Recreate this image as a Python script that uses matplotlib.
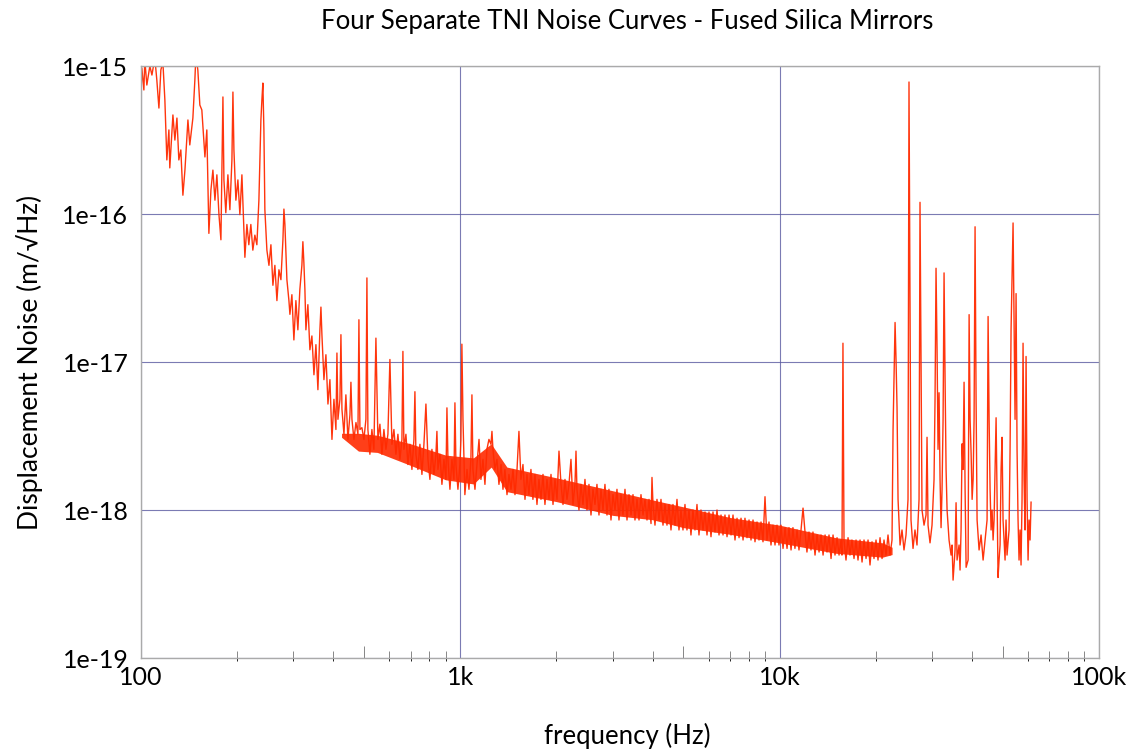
import numpy as np
import matplotlib
matplotlib.use('Agg')
import matplotlib.pyplot as plt
from matplotlib.ticker import FixedLocator, NullFormatter

plt.rcParams['font.family'] = ['Lato', 'DejaVu Sans']

# Spectrum: frequency in Hz, noise in units of 1e-18 m/sqrt(Hz)
# low band, 100 Hz - 480 Hz
freq_low = [
    100, 100.7, 102.2, 102.9, 104.4, 106.7, 108.3, 110.6, 112.2, 113.9,
    115.5, 117.2, 118.9, 120.6, 122.4, 123.2, 126.0, 127.8, 129.7, 131.5,
    133.4, 135.4, 137.4, 140.4, 142.3, 145.5, 147.6, 148.7, 150.8, 153.0,
    155.2, 158.7, 160.9, 163.3, 165.7, 168.1, 170.6, 173.0, 175.6, 178.1,
    180.7, 182.0, 184.5, 187.3, 190.0, 192.8, 194.2, 195.6, 198.4, 201.3,
    204.2, 207.2, 210.2, 211.7, 214.8, 217.8, 221.0, 224.2, 227.5, 230.8,
    234.2, 235.9, 237.6, 239.3, 241.0, 242.8, 244.5, 248.1, 251.8, 255.4,
    259.1, 262.8, 266.7, 270.6, 274.5, 278.5, 280.5, 282.5, 286.6, 290.8,
    292.9, 297.1, 301.4, 305.8, 310.2, 314.7, 319.3, 321.6, 323.9, 326.3,
    328.7, 333.4, 338.3, 343.2, 348.3, 353.3, 358.4, 363.6, 366.3, 368.9,
    374.3, 379.7, 385.3, 390.8, 396.6, 402.3, 408.1, 411.1, 414.1, 420.1,
    423.1, 426.2, 432.4, 438.5, 445.0, 451.5, 454.7, 458.1, 464.7, 471.5,
    478.3,
]
noise_low = [
    589, 969, 689, 1098, 744, 1000, 869, 1132, 804, 520,
    940, 1064, 589, 232, 370, 205, 467, 316, 445, 232,
    271, 134, 198, 432, 293, 445, 804, 1187, 940, 545,
    505, 243, 370, 74, 145, 198, 124, 184, 99, 67,
    618, 170, 102, 184, 107, 232, 667, 271, 124, 170,
    99, 184, 78, 51, 85, 62, 85, 57, 72, 62,
    124, 232, 432, 589, 767, 370, 107, 57, 45, 62,
    33, 45, 26, 42, 36, 67, 108, 85, 36, 26,
    21, 28.5, 14.1, 26, 16.5, 31, 45, 65, 47, 31,
    16.5, 24.4, 12.1, 15, 8.2, 13.1, 6.5, 16.5, 23.5, 15.3,
    7.6, 11.2, 5.2, 7.6, 3.0, 5.6, 3.5, 11.5, 4.1, 5.6,
    15.3, 4.8, 3.25, 6.0, 3.0, 4.4, 7.3, 4.1, 3.0, 3.9,
    3.25,
]

# mid band, 480 Hz - 4.3 kHz
freq_mid = [
    481.7, 485.2, 492.2, 499.3, 506.6, 510.3, 513.9, 521.4, 529.0, 536.6,
    544.5, 552.4, 560.4, 568.6, 576.8, 585.2, 593.7, 602.3, 611.1, 620.0,
    629.0, 638.1, 647.4, 656.8, 661.5, 666.3, 676.0, 685.8, 695.8, 705.9,
    716.2, 721.3, 726.6, 737.1, 747.8, 758.7, 769.7, 780.9, 792.3, 803.7,
    815.4, 827.2, 839.3, 845.3, 851.5, 863.8, 876.4, 889.2, 902.1, 908.6,
    915.2, 928.5, 941.9, 955.6, 962.5, 969.5, 983.6, 997.8, 1005, 1012,
    1020, 1034, 1050, 1065, 1080, 1088, 1096, 1112, 1128, 1145,
    1161, 1178, 1195, 1212, 1230, 1248, 1257, 1266, 1284, 1303,
    1322, 1342, 1361, 1380, 1401, 1421, 1442, 1463, 1484, 1506,
    1527, 1549, 1572, 1595, 1618, 1641, 1665, 1689, 1714, 1739,
    1764, 1790, 1816, 1842, 1869, 1896, 1924, 1952, 1980, 2009,
    2038, 2068, 2098, 2128, 2159, 2190, 2222, 2254, 2287, 2304,
    2320, 2354, 2388, 2423, 2458, 2494, 2530, 2567, 2604, 2642,
    2680, 2719, 2759, 2799, 2839, 2881, 2922, 2965, 3008, 3052,
    3096, 3141, 3187, 3233, 3280, 3328, 3377, 3426, 3475, 3525,
    3577, 3629, 3681, 3735, 3789, 3844, 3900, 3957, 3985, 4014,
    4072, 4131, 4191, 4252,
]
noise_mid = [
    19.3, 3.5, 3.6, 3.0, 4.1, 37, 3.5, 2.38, 3.5, 2.57,
    14.5, 3.0, 3.8, 2.38, 3.5, 2.57, 3.25, 10.4, 2.78, 3.5,
    2.38, 3.25, 2.2, 3.0, 11.8, 2.57, 3.25, 2.03, 2.78, 1.88,
    3.0, 6.3, 2.38, 1.88, 2.78, 1.74, 2.78, 5.2, 2.2, 1.61,
    2.57, 1.74, 2.38, 3.4, 1.88, 2.38, 1.49, 2.2, 1.61, 4.9,
    2.2, 1.38, 2.2, 1.61, 5.3, 2.03, 1.38, 2.03, 3.0, 13.2,
    4.1, 1.27, 1.88, 1.38, 2.2, 6.0, 1.88, 1.38, 2.03, 3.0,
    1.61, 2.2, 1.49, 2.57, 3.0, 2.78, 3.4, 2.57, 1.88, 2.2,
    1.49, 2.03, 1.38, 1.88, 1.27, 1.74, 1.38, 1.88, 1.27, 1.88,
    3.4, 1.61, 2.03, 1.18, 1.74, 1.27, 1.88, 1.18, 1.74, 1.09,
    1.61, 1.18, 1.74, 1.09, 1.61, 1.18, 1.74, 1.09, 1.61, 1.18,
    2.5, 1.49, 1.09, 1.61, 1.18, 1.49, 2.2, 1.09, 1.49, 2.5,
    1.38, 1.0, 1.49, 1.09, 1.61, 1.0, 1.49, 0.925, 1.38, 1.09,
    1.49, 0.925, 1.38, 1.0, 1.49, 0.925, 1.38, 0.856, 1.27, 1.0,
    1.38, 0.856, 1.27, 0.925, 1.38, 0.856, 1.27, 0.925, 1.27, 0.856,
    1.18, 0.856, 1.27, 0.925, 1.18, 0.856, 1.18, 0.81, 1.66, 1.09,
    0.79, 1.18, 0.856, 1.18,
]

# high band, 4.3 kHz - 61 kHz
freq_high = [
    4314, 4377, 4440, 4505, 4570, 4636, 4704, 4772, 4841, 4911,
    4983, 5055, 5128, 5203, 5278, 5355, 5433, 5512, 5592, 5673,
    5756, 5840, 5925, 6011, 6098, 6187, 6276, 6368, 6461, 6555,
    6650, 6745, 6845, 6944, 7045, 7147, 7250, 7357, 7464, 7572,
    7683, 7791, 7906, 8022, 8137, 8256, 8375, 8497, 8620, 8746,
    8872, 9001, 9131, 9264, 9399, 9535, 9674, 9814, 9956, 10100,
    10250, 10400, 10550, 10700, 10860, 11010, 11170, 11340, 11500, 11670,
    11840, 12010, 12180, 12360, 12540, 12720, 12910, 13100, 13290, 13480,
    13680, 13880, 14070, 14280, 14490, 14700, 14910, 15130, 15350, 15570,
    15680, 15790, 15910, 16140, 16380, 16610, 16850, 17100, 17350, 17600,
    17860, 18120, 18380, 18650, 18920, 19190, 19470, 19750, 20040, 20330,
    20630, 20930, 21230, 21540, 21850, 22170, 22490, 22660, 22990, 23150,
    23320, 23490, 23830, 24170, 24520, 24880, 25240, 25420, 25600, 25790,
    26170, 26540, 26930, 27330, 27520, 27720, 27920, 28330, 28740, 28950,
    29160, 29580, 30010, 30450, 30670, 30890, 31120, 31340, 31570, 31800,
    32030, 32260, 32500, 32730, 32970, 33210, 33450, 33930, 34430, 34680,
    34930, 35430, 35690, 35950, 36470, 36730, 37000, 37270, 37530, 37810,
    38090, 38370, 38930, 39210, 39490, 39780, 40070, 40360, 40640, 40930,
    41230, 41530, 42130, 42740, 43370, 44000, 44630, 44960, 45290, 45610,
    45940, 46280, 46610, 46940, 47280, 47630, 47970, 48310, 48660, 49020,
    49370, 49720, 50080, 50810, 51170, 51540, 52300, 52680, 53060, 53440,
    53830, 54220, 54610, 55010, 55400, 55800, 56200, 56610, 57020, 57430,
    57850, 58270, 58690, 59120, 59550, 59980, 60410, 60850, 61290,
]
noise_high = [
    0.79, 1.09, 0.79, 1.09, 0.733, 1.09, 0.79, 1.18, 0.733, 1.0,
    0.733, 1.09, 0.733, 1.0, 0.678, 1.0, 0.733, 1.09, 0.678, 1.0,
    0.733, 0.97, 0.678, 0.97, 0.66, 0.97, 0.71, 1.0, 0.678, 0.925,
    0.678, 0.925, 0.66, 0.925, 0.678, 0.925, 0.627, 0.88, 0.65, 0.88,
    0.627, 0.88, 0.65, 0.856, 0.627, 0.856, 0.61, 0.83, 0.627, 0.83,
    0.61, 1.23, 0.627, 0.83, 0.58, 0.79, 0.58, 0.79, 0.58, 0.79,
    0.55, 0.76, 0.55, 0.76, 0.537, 0.76, 0.55, 0.733, 0.537, 0.733,
    1.03, 0.71, 0.52, 0.71, 0.537, 0.71, 0.496, 0.678, 0.52, 0.678,
    0.496, 0.678, 0.52, 0.678, 0.47, 0.678, 0.496, 0.65, 0.496, 0.627,
    0.496, 13.4, 0.627, 0.459, 0.65, 0.496, 0.627, 0.47, 0.627, 0.459,
    0.627, 0.445, 0.627, 0.47, 0.627, 0.425, 0.61, 0.47, 0.627, 0.459,
    0.65, 0.47, 0.627, 0.496, 0.678, 0.496, 0.627, 3.5, 18.5, 10.4,
    4.9, 1.18, 0.58, 0.733, 0.537, 0.678, 1.18, 780, 26, 0.856,
    0.55, 0.733, 0.58, 1.18, 120, 12.1, 1.0, 0.79, 0.925, 3.1,
    0.79, 0.6, 0.79, 1.61, 5.6, 43, 12.1, 2.57, 6.2, 1.61,
    0.76, 1.38, 4.1, 40, 7.6, 1.88, 1.0, 0.627, 0.496, 0.58,
    0.336, 0.537, 1.12, 0.459, 0.58, 0.393, 0.733, 2.8, 1.88, 7.3,
    1.38, 0.41, 0.459, 20.9, 4.1, 2.4, 1.18, 1.61, 4.1, 82,
    5.6, 0.856, 0.537, 0.678, 0.459, 0.627, 0.856, 20.3, 4.1, 1.38,
    0.733, 1.0, 0.627, 0.856, 1.88, 4.2, 1.18, 0.35, 0.459, 0.58,
    1.88, 3.1, 0.856, 0.459, 0.856, 0.496, 0.733, 2.57, 16.5, 37,
    87, 19.3, 4.1, 29, 2.57, 0.856, 0.459, 0.733, 0.425, 1.18,
    13.4, 1.61, 0.733, 10.9, 1.18, 0.459, 0.856, 0.627, 1.13,
]

# dense core where the four traces overlap (same units, inside the jagged edges)
band_freq = [425, 480, 550, 700, 900, 1100, 1250, 1400, 2000, 3000,
             4000, 5000, 7000, 10000, 15000, 21000, 22500]
band_upper = [3.3, 3.3, 3.2, 2.8, 2.35, 2.25, 2.8, 1.95, 1.65, 1.35,
              1.17, 1.05, 0.89, 0.79, 0.65, 0.6, 0.56]
band_lower = [3.1, 2.5, 2.45, 2.0, 1.6, 1.5, 1.95, 1.33, 1.14, 0.92,
              0.86, 0.76, 0.685, 0.6, 0.51, 0.48, 0.5]

x_ticks = [100, 1000, 10000, 100000]
x_labels = ['100', '1k', '10k', '100k']
y_ticks = [1e-19, 1e-18, 1e-17, 1e-16, 1e-15]
y_labels = ['1e-19', '1e-18', '1e-17', '1e-16', '1e-15']

freq = np.array(freq_low + freq_mid + freq_high)
noise = np.array(noise_low + noise_mid + noise_high) * 1e-18

fig = plt.figure(figsize=(11.36, 7.52), dpi=100)
ax = fig.add_axes([0.124, 0.125, 0.8434, 0.7872])

ax.fill_between(band_freq, np.array(band_lower) * 1e-18, np.array(band_upper) * 1e-18,
                color='#ff2a00', alpha=0.9, linewidth=0)
ax.plot(freq, noise, color='#ff2a00', linewidth=1.0, alpha=0.95)

ax.set_xscale('log')
ax.set_yscale('log')
ax.set_xlim(100, 100000)
ax.set_ylim(1e-19, 1e-15)

ax.xaxis.set_major_locator(FixedLocator(x_ticks))
ax.set_xticklabels(x_labels)
ax.yaxis.set_major_locator(FixedLocator(y_ticks))
ax.set_yticklabels(y_labels)
minor = [m * d for d in (100, 1000, 10000) for m in range(2, 10)]
ax.xaxis.set_minor_locator(FixedLocator(minor))
ax.xaxis.set_minor_formatter(NullFormatter())
ax.yaxis.set_minor_locator(FixedLocator([]))

ax.tick_params(axis='both', which='major', length=0, labelsize=18, colors='black')
ax.tick_params(axis='x', which='major', pad=6)
ax.tick_params(axis='y', which='major', pad=9)
ax.tick_params(axis='x', which='minor', direction='in', length=5, width=0.7, color='#888888')

# longer minor ticks at the 5s
sec = ax.secondary_xaxis('bottom')
sec.set_xticks([500, 5000, 50000])
sec.tick_params(direction='in', length=9, width=0.7, color='#888888', labelbottom=False)
sec.spines['bottom'].set_visible(False)

ax.grid(True, which='major', color='#5a5aa0', linewidth=0.8, alpha=0.8)
ax.set_axisbelow(True)
for s in ax.spines.values():
    s.set_color('#aaaaaa')
    s.set_linewidth(1.0)

fig.text(0.552, 0.022, 'frequency (Hz)', ha='center', va='center', fontsize=18.5)
ax.set_ylabel('Displacement Noise (m/\u221aHz)', fontsize=19, labelpad=14)
fig.text(0.552, 0.972, 'Four Separate TNI Noise Curves - Fused Silica Mirrors',
         ha='center', va='center', fontsize=18.5)

fig.savefig('out.png', dpi=100)
